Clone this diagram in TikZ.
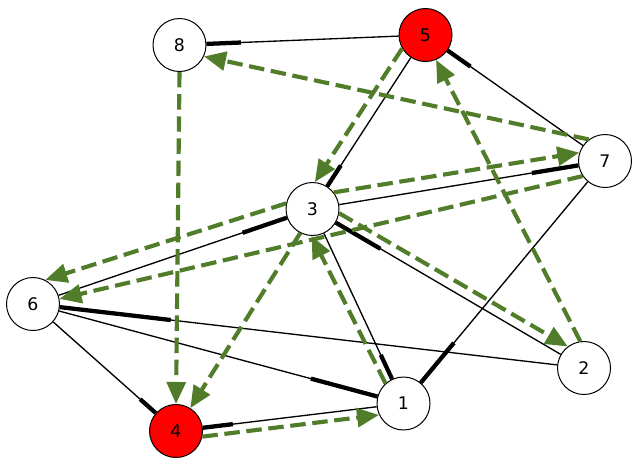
\documentclass[tikz,border=0pt]{standalone}
\usepackage{fontspec}
\setmainfont{DejaVu Sans}
\usepackage{xcolor}
\usepackage{tikz}
\usetikzlibrary{calc}
\usetikzlibrary{arrows.meta}
\definecolor{flowgreen}{RGB}{81,125,42}
\def\link(#1)(#2){\draw[edge] (#1)--(#2); \draw[edge,line width=3.2pt] (#2)--($(#2)!0.25!(#1)$)}

\begin{document}
\begin{tikzpicture}[x=0.75pt,y=-0.75pt,
    vertex/.style={circle,draw,line width=0.75pt,fill=white,minimum size=39.75pt,inner sep=0pt,font=\fontsize{13}{15}\selectfont},
    edge/.style={line width=1pt},
    flow/.style={draw=flowgreen,line width=3.1pt,dash pattern=on 11.6pt off 5pt,-{Triangle[length=16.5pt,width=14pt,fill=flowgreen]}}]
        \useasboundingbox (0,0) rectangle (641,465);
        \node[vertex] (n1) at (403.5,403.5) {1};
        \node[vertex] (n2) at (584,368) {2};
        \node[vertex] (n3) at (312.5,209) {3};
        \node[vertex,fill=red] (n4) at (176,431) {4};
        \node[vertex,fill=red] (n5) at (425.5,35) {5};
        \node[vertex] (n6) at (33,304) {6};
        \node[vertex] (n7) at (605,161) {7};
        \node[vertex] (n8) at (179.5,45) {8};
        % black edges, heavy end at the second node
        \link(n5)(n8);
        \link(n5)(n3);
        \link(n7)(n5);
        \link(n3)(n7);
        \link(n7)(n1);
        \link(n6)(n3);
        \link(n2)(n3);
        \link(n3)(n1);
        \link(n2)(n6);
        \link(n6)(n1);
        \link(n6)(n4);
        \link(n1)(n4);
        % green dashed arrows
        \draw[flow] (n7.127)--(n8.335);
        \draw[flow] (n5.210)--(n3.85);
        \draw[flow] (n2.98)--(n5.293);
        \draw[flow] (n3.38)--(n7.162);
        \draw[flow] (n7.214)--(n6.11);
        \draw[flow] (n3.168)--(n6.63);
        \draw[flow] (n3.351)--(n2.127);
        \draw[flow] (n3.243)--(n4.58);
        \draw[flow] (n8.south)--(n4.north);
        \draw[flow] (n1.132)--(n3.268);
        \draw[flow] (n4.348)--(n1.205);
    \end{tikzpicture}
\end{document}
